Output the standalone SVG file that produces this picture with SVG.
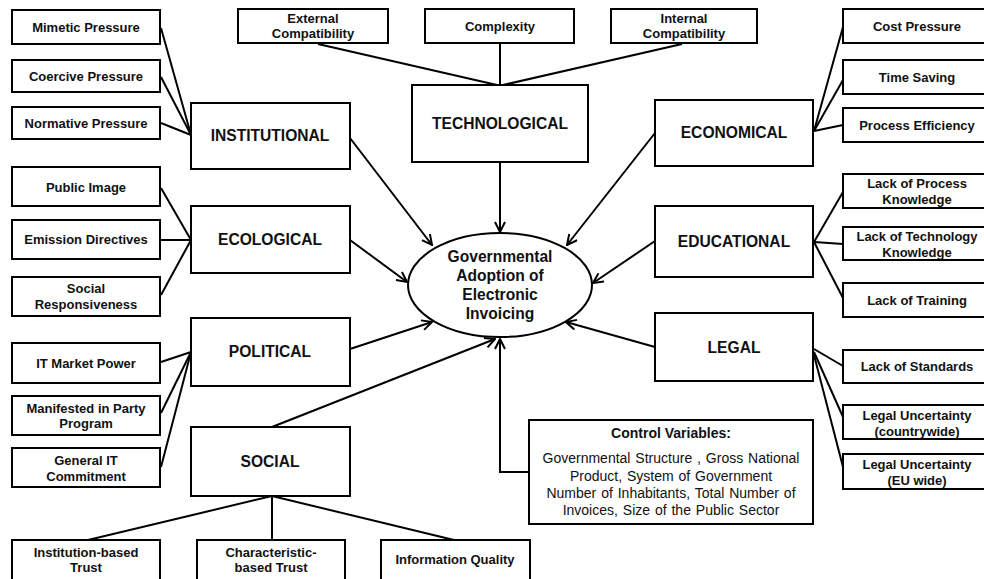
<svg xmlns="http://www.w3.org/2000/svg" width="984" height="579" viewBox="0 0 984 579">
  <style>
    .box { fill: #fff; stroke: #000; stroke-width: 2; }
    .sub { font-family: "Liberation Sans", Arial, sans-serif; font-size: 13px; font-weight: bold; fill: #111; text-anchor: middle; }
    .cat { font-family: "Liberation Sans", Arial, sans-serif; font-size: 15.6px; font-weight: bold; fill: #111; text-anchor: middle; }
    .ctl { font-family: "Liberation Sans", Arial, sans-serif; font-size: 14px; fill: #111; text-anchor: middle; }
    .ctlh { font-family: "Liberation Sans", Arial, sans-serif; font-size: 14px; font-weight: bold; fill: #111; text-anchor: middle; }
    .link { fill: none; stroke: #000; stroke-width: 2; }
    .arrow { fill: none; stroke: #000; stroke-width: 2; marker-end: url(#open); }
  </style>
  <defs>
    <marker id="open" viewBox="0 0 12 12" refX="11" refY="6" markerWidth="12" markerHeight="12" markerUnits="userSpaceOnUse" orient="auto">
      <path d="M1,1 L11,6 L1,11" fill="none" stroke="#000" stroke-width="2"/>
    </marker>
  </defs>
  <rect width="984" height="579" fill="#fff"/>

  <!-- connectors -->
  <g id="connectors">
    <!-- institutional factors -->
    <line class="link" x1="161" y1="28" x2="191" y2="135"/>
    <line class="link" x1="161" y1="77" x2="191" y2="135"/>
    <line class="link" x1="161" y1="123" x2="191" y2="135"/>
    <!-- ecological factors -->
    <line class="link" x1="161" y1="188" x2="191" y2="240"/>
    <line class="link" x1="161" y1="240" x2="191" y2="240"/>
    <line class="link" x1="161" y1="295" x2="191" y2="240"/>
    <!-- political factors -->
    <line class="link" x1="161" y1="362" x2="191" y2="352"/>
    <line class="link" x1="161" y1="413" x2="191" y2="352"/>
    <line class="link" x1="161" y1="467" x2="191" y2="352"/>
    <!-- technological factors -->
    <line class="link" x1="318" y1="44" x2="497" y2="85"/>
    <line class="link" x1="500" y1="43" x2="500" y2="85"/>
    <line class="link" x1="682" y1="44" x2="503" y2="85"/>
    <!-- economical factors -->
    <line class="link" x1="814" y1="131" x2="843" y2="27"/>
    <line class="link" x1="814" y1="131" x2="843" y2="80"/>
    <line class="link" x1="814" y1="131" x2="843" y2="125"/>
    <!-- educational factors -->
    <line class="link" x1="814" y1="242" x2="843" y2="192"/>
    <line class="link" x1="814" y1="242" x2="843" y2="244"/>
    <line class="link" x1="814" y1="242" x2="843" y2="298"/>
    <!-- legal factors -->
    <line class="link" x1="814" y1="349" x2="843" y2="366"/>
    <line class="link" x1="814" y1="352" x2="843" y2="417"/>
    <line class="link" x1="814" y1="355" x2="843" y2="467"/>
    <!-- social factors -->
    <line class="link" x1="272" y1="496" x2="88" y2="540"/>
    <line class="link" x1="272" y1="496" x2="272" y2="540"/>
    <line class="link" x1="272" y1="496" x2="454" y2="540"/>
    <!-- categories into the central construct -->
    <line class="arrow" x1="500" y1="162" x2="500" y2="232"/>
    <line class="arrow" x1="350" y1="138" x2="432" y2="245"/>
    <line class="arrow" x1="655" y1="133" x2="567" y2="245"/>
    <line class="arrow" x1="350" y1="240" x2="407" y2="282"/>
    <line class="arrow" x1="655" y1="241" x2="593" y2="283"/>
    <line class="arrow" x1="350" y1="349" x2="432" y2="322"/>
    <line class="arrow" x1="655" y1="347" x2="566" y2="322"/>
    <line class="arrow" x1="272" y1="427" x2="495" y2="339"/>
    <polyline class="arrow" points="529,472 500,472 500,339"/>
  </g>

  <!-- central construct -->
  <g id="adoption">
    <ellipse class="box" cx="500" cy="285" rx="92" ry="52"/>
    <text class="cat" x="500" y="262">Governmental</text>
    <text class="cat" x="500" y="281">Adoption of</text>
    <text class="cat" x="500" y="300">Electronic</text>
    <text class="cat" x="500" y="319">Invoicing</text>
  </g>

  <!-- category nodes -->
  <g id="institutional"><rect class="box" x="191" y="103" width="159" height="66"/><text class="cat" x="270" y="141">INSTITUTIONAL</text></g>
  <g id="ecological"><rect class="box" x="191" y="206" width="159" height="67"/><text class="cat" x="270" y="245">ECOLOGICAL</text></g>
  <g id="political"><rect class="box" x="191" y="318" width="159" height="68"/><text class="cat" x="270" y="357">POLITICAL</text></g>
  <g id="social"><rect class="box" x="191" y="427" width="159" height="69"/><text class="cat" x="270" y="467">SOCIAL</text></g>
  <g id="technological"><rect class="box" x="412" y="85" width="176" height="77"/><text class="cat" x="500" y="129">TECHNOLOGICAL</text></g>
  <g id="economical"><rect class="box" x="655" y="100" width="158" height="66"/><text class="cat" x="734" y="138">ECONOMICAL</text></g>
  <g id="educational"><rect class="box" x="655" y="206" width="158" height="71"/><text class="cat" x="734" y="247">EDUCATIONAL</text></g>
  <g id="legal"><rect class="box" x="655" y="313" width="158" height="68"/><text class="cat" x="734" y="353">LEGAL</text></g>

  <!-- control variables -->
  <g id="control-variables">
    <rect class="box" x="529" y="420" width="284" height="104"/>
    <text class="ctlh" x="671" y="438">Control Variables:</text>
    <text class="ctl" x="671" y="463" word-spacing="1">Governmental Structure , Gross National</text>
    <text class="ctl" x="671" y="481" word-spacing="1">Product, System of Government</text>
    <text class="ctl" x="671" y="498" word-spacing="1">Number of Inhabitants, Total Number of</text>
    <text class="ctl" x="671" y="515" word-spacing="1">Invoices, Size of the Public Sector</text>
  </g>

  <!-- left factors -->
  <g id="mimetic-pressure"><rect class="box" x="12" y="10" width="148" height="34"/><text class="sub" x="86" y="32">Mimetic Pressure</text></g>
  <g id="coercive-pressure"><rect class="box" x="12" y="60" width="148" height="32"/><text class="sub" x="86" y="81">Coercive Pressure</text></g>
  <g id="normative-pressure"><rect class="box" x="12" y="107" width="148" height="32"/><text class="sub" x="86" y="128">Normative Pressure</text></g>
  <g id="public-image"><rect class="box" x="12" y="167" width="148" height="39"/><text class="sub" x="86" y="192">Public Image</text></g>
  <g id="emission-directives"><rect class="box" x="12" y="220" width="148" height="39"/><text class="sub" x="86" y="244">Emission Directives</text></g>
  <g id="social-responsiveness"><rect class="box" x="12" y="277" width="148" height="39"/><text class="sub" x="86" y="293">Social</text><text class="sub" x="86" y="309">Responsiveness</text></g>
  <g id="it-market-power"><rect class="box" x="12" y="343" width="148" height="40"/><text class="sub" x="86" y="368">IT Market Power</text></g>
  <g id="party-program"><rect class="box" x="12" y="396" width="148" height="39"/><text class="sub" x="86" y="413">Manifested in Party</text><text class="sub" x="86" y="428">Program</text></g>
  <g id="it-commitment"><rect class="box" x="12" y="448" width="148" height="39"/><text class="sub" x="86" y="465">General IT</text><text class="sub" x="86" y="481">Commitment</text></g>

  <!-- bottom factors -->
  <g id="institution-trust"><rect class="box" x="12" y="540" width="148" height="46"/><text class="sub" x="86" y="557">Institution-based</text><text class="sub" x="86" y="572">Trust</text></g>
  <g id="characteristic-trust"><rect class="box" x="197" y="540" width="148" height="46"/><text class="sub" x="271" y="557">Characteristic-</text><text class="sub" x="271" y="572">based Trust</text></g>
  <g id="information-quality"><rect class="box" x="381" y="540" width="149" height="46"/><text class="sub" x="455" y="564">Information Quality</text></g>

  <!-- top factors -->
  <g id="external-compatibility"><rect class="box" x="238" y="9" width="150" height="34"/><text class="sub" x="313" y="23">External</text><text class="sub" x="313" y="38">Compatibility</text></g>
  <g id="complexity"><rect class="box" x="425" y="9" width="149" height="34"/><text class="sub" x="500" y="31">Complexity</text></g>
  <g id="internal-compatibility"><rect class="box" x="611" y="9" width="146" height="34"/><text class="sub" x="684" y="23">Internal</text><text class="sub" x="684" y="38">Compatibility</text></g>

  <!-- right factors -->
  <g id="cost-pressure"><rect class="box" x="843" y="9" width="148" height="34"/><text class="sub" x="917" y="31">Cost Pressure</text></g>
  <g id="time-saving"><rect class="box" x="843" y="60" width="148" height="34"/><text class="sub" x="917" y="82">Time Saving</text></g>
  <g id="process-efficiency"><rect class="box" x="843" y="108" width="148" height="34"/><text class="sub" x="917" y="130">Process Efficiency</text></g>
  <g id="process-knowledge"><rect class="box" x="843" y="174" width="148" height="34"/><text class="sub" x="917" y="188">Lack of Process</text><text class="sub" x="917" y="204">Knowledge</text></g>
  <g id="technology-knowledge"><rect class="box" x="843" y="227" width="148" height="33"/><text class="sub" x="917" y="241">Lack of Technology</text><text class="sub" x="917" y="257">Knowledge</text></g>
  <g id="lack-of-training"><rect class="box" x="843" y="283" width="148" height="34"/><text class="sub" x="917" y="305">Lack of Training</text></g>
  <g id="lack-of-standards"><rect class="box" x="843" y="350" width="148" height="33"/><text class="sub" x="917" y="371">Lack of Standards</text></g>
  <g id="legal-countrywide"><rect class="box" x="843" y="405" width="148" height="34"/><text class="sub" x="917" y="420">Legal Uncertainty</text><text class="sub" x="917" y="436">(countrywide)</text></g>
  <g id="legal-eu"><rect class="box" x="843" y="454" width="148" height="35"/><text class="sub" x="917" y="469">Legal Uncertainty</text><text class="sub" x="917" y="485">(EU wide)</text></g>
</svg>
